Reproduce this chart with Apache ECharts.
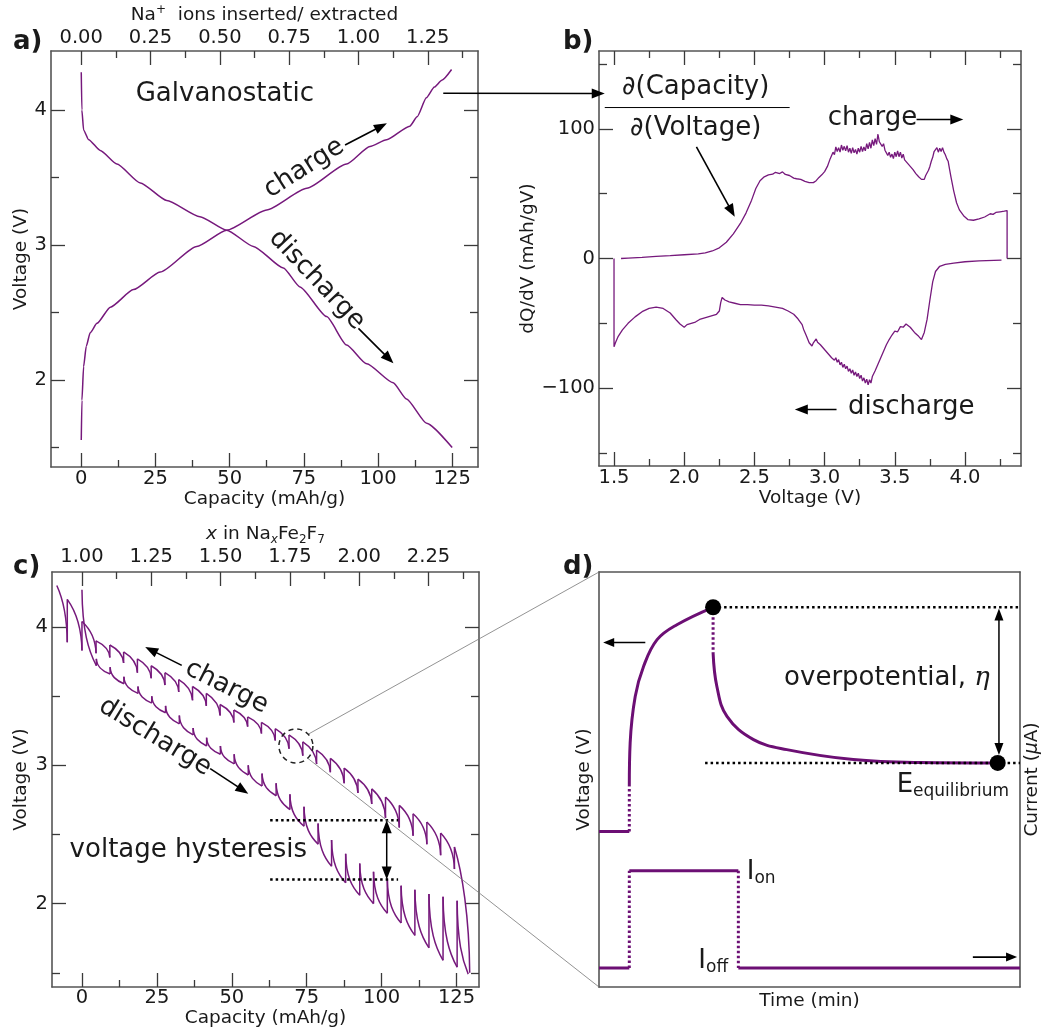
<!DOCTYPE html>
<html><head><meta charset="utf-8">
<script src="https://cdn.jsdelivr.net/npm/echarts@6/dist/echarts.min.js"></script>
<style>html,body{margin:0;padding:0;background:#fff}#c{width:1049px;height:1034px}</style>
</head><body><div id="c"></div>
<script>
// ---------------- Panel a: galvanostatic curves ----------------
const aChargeCap = [0, 0.22, 0.79, 1.68, 3.0, 5.3, 9.8, 17.6, 26.6, 38.9, 49, 62.5, 76, 89.4, 97.3, 102.9, 110.7, 113.2, 116.3, 119.0, 121.5, 124.8];
const aChargeV   = [1.556, 1.85, 2.1, 2.25, 2.35, 2.42, 2.54, 2.67, 2.80, 2.99, 3.11, 3.26, 3.42, 3.60, 3.73, 3.78, 3.88, 3.95, 4.09, 4.17, 4.22, 4.30];
const aDisCap = [0, 0.2, 0.8, 2.5, 6.4, 12, 19.9, 28.8, 40, 49, 58, 68.1, 73.7, 82.7, 89.4, 96.2, 105.1, 109.6, 116.4, 125];
const aDisV   = [4.28, 4.0, 3.85, 3.78, 3.70, 3.60, 3.46, 3.33, 3.21, 3.11, 2.99, 2.83, 2.69, 2.47, 2.26, 2.12, 1.98, 1.86, 1.68, 1.50];
const aCapMajor = [0, 25, 50, 75, 100, 125];
const aCapMinor = [12.5, 37.5, 62.5, 87.5, 112.5];
const aIonMajor = [0, 0.25, 0.5, 0.75, 1.0, 1.25];
const aIonMinor = [0.125, 0.375, 0.625, 0.875, 1.125, 1.375];
const aVMajor = [2, 3, 4];
const aVMinor = [1.5, 2.5, 3.5];

// ---------------- Panel b: dQ/dV ----------------
const bChargeV = [1.55,1.60,1.70,1.80,1.90,2.00,2.10,2.15,2.20,2.25,2.30,2.35,2.40,2.44,2.48,2.51,2.54,2.57,2.60,2.63,2.65,2.68,2.70,2.72,2.75,2.78,
  2.80,2.83,2.86,2.89,2.92,2.94,
  2.96,2.97,2.98,2.99,3.00,3.01,3.02,3.03,3.04,3.05,3.06,3.07,3.08,3.09,3.10,3.11,3.12,3.13,3.14,3.15,3.16,3.17,3.18,3.19,3.20,3.21,3.22,3.23,3.24,3.25,3.26,3.27,3.28,3.29,
  3.30,3.31,3.32,3.33,3.34,3.35,3.36,3.37,3.38,3.39,3.40,3.41,3.42,3.43,3.44,3.45,3.46,3.47,3.48,3.49,3.50,3.51,3.52,3.53,3.54,3.55,3.56,3.57,3.58,3.59,
  3.60,3.61,3.62,3.63,3.64,3.65,3.66,3.67,3.68,3.69,3.70,3.71,3.72,3.73,3.74,3.75,3.76,3.77,3.78,3.79,3.80,3.81,3.82,3.83,3.84,3.85,3.86,3.87,3.88,3.89,3.90,
  3.92,3.94,3.96,3.99,4.02,4.06,4.10,4.14,4.18,4.20,4.22,4.25,4.28,4.30,4.30];
const bChargeD = [0,0.3,0.9,1.6,2.2,2.9,3.6,4.3,5.8,8.2,12.5,19,27,35,45,54,60,63,64.5,65,66.5,65.5,66.8,64.8,64,62,
  61.5,61,59.5,58.5,58.5,60,
  62.5,61,64.5,63,67,66.5,71,72,77,76,82,80,86,82.5,85.5,82,87.5,83.5,86.5,83,87,82,85,81,85.5,81.5,84,80.5,85,82,86.5,82.5,86,83,
  88.5,84.5,89.5,85,91.5,87,92.5,88,96,90,91.5,86.5,88.5,83.5,84.5,79.5,82,78,80.5,77,82,78.5,83,78.5,82,77.5,80.5,76,77.5,73.5,
  75,71,72.5,68.5,69,65.5,66.5,63,64,61,62.5,61,64,64.5,68,71,75,78,82.5,81,85.5,82,85,82.5,85.5,82,80,77,75,69,63,
  52,43,37.5,33,30,29.5,30.5,32,34.5,34,35.5,36,36.5,37,0];
const bDisV = [1.50,1.50,1.51,1.53,1.56,1.60,1.65,1.70,1.75,1.80,1.85,1.90,1.94,1.97,2.00,2.02,2.05,2.08,2.11,2.14,2.17,2.20,2.23,2.25,2.26,2.27,2.29,2.32,2.36,2.40,2.45,2.50,2.55,2.60,2.65,2.70,2.74,2.78,2.81,
  2.84,2.85,2.86,2.87,2.88,2.89,2.90,2.91,2.92,2.93,2.94,2.95,2.96,2.97,2.98,2.99,3.00,3.01,3.02,3.03,3.04,3.05,3.06,3.07,3.08,3.09,3.10,3.11,3.12,3.13,3.14,3.15,3.16,3.17,3.18,3.19,
  3.20,3.21,3.22,3.23,3.24,3.25,3.26,3.27,3.28,3.29,3.30,3.31,3.32,3.33,3.34,3.35,3.36,3.37,3.38,3.39,3.40,3.41,3.42,3.43,3.44,3.45,3.46,3.47,3.48,3.49,3.50,
  3.52,3.54,3.56,3.58,3.61,3.64,3.67,3.69,3.71,3.73,3.75,3.77,3.79,3.82,3.86,3.92,4.00,4.10,4.26];
const bDisD = [0,-68,-65,-60,-55,-50,-45,-41,-38.5,-37.5,-38.5,-42,-47,-50.5,-53,-51,-50,-49,-47,-46,-45,-44,-43,-40.5,-34,-30,-32,-33.5,-34.5,-35.5,-35.5,-36,-36,-36.5,-37.5,-38.5,-40.5,-43,-46.5,
  -51,-54.5,-55,-59.5,-61,-65,-64,-67.5,-65,-64.5,-62,-64.5,-63,-66.5,-65,-69,-68,-71.5,-70,-74,-72.5,-76.5,-75,-78.5,-76.5,-80,-78,-82,-80,-84,-81.5,-85,-83,-87,-85,-88.5,
  -86,-90,-87.5,-91,-88.5,-92.5,-90,-94.5,-92,-96,-93,-97.5,-93.5,-96,-91,-92,-86.5,-87,-81.5,-82,-76.5,-76,-71.5,-71,-66.5,-66,-62.5,-63,-59,-59.5,-56,
  -56.5,-52.5,-53,-50.5,-53,-57,-60,-62.5,-57,-47,-32,-18,-10,-6,-4.5,-3.5,-2.5,-1.8,-1.2];
const bVMajor = [1.5, 2.0, 2.5, 3.0, 3.5, 4.0];
const bVMinor = [1.75, 2.25, 2.75, 3.25, 3.75, 4.25];
const bDMajor = [-100, 0, 100];
const bDMinor = [-150, -50, 50, 150];

// ---------------- Panel c: GITT ----------------
const cChargeCap = [-8.4, -4.9, 0, 4.7, 9.3, 13.9, 18.5, 23.1, 27.7, 32.3, 36.9, 41.5, 46.1, 50.7, 55.3, 59.9, 64.5, 69.1, 73.7, 78.3, 82.9, 87.5, 92.1, 96.7, 101.3, 105.9, 110.5, 115.1, 119.7, 124.3, 129.4];
const cChargeTop = [4.30, 4.20, 4.04, 3.90, 3.87, 3.82, 3.77, 3.72, 3.67, 3.62, 3.57, 3.52, 3.44, 3.40, 3.35, 3.31, 3.265, 3.22, 3.17, 3.11, 3.05, 2.98, 2.90, 2.83, 2.77, 2.71, 2.65, 2.59, 2.51, 2.41, null];
const cChargeBot = [null, 3.89, 3.83, 3.81, 3.78, 3.74, 3.67, 3.63, 3.58, 3.53, 3.47, 3.43, 3.36, 3.31, 3.28, 3.23, 3.18, 3.12, 3.07, 3.01, 2.95, 2.87, 2.80, 2.72, 2.62, 2.55, 2.49, 2.43, 2.35, 2.25, 1.50];
const cDisCap = [0, 4.8, 9.4, 14.0, 18.7, 23.3, 27.9, 32.5, 37.1, 41.6, 46.2, 50.8, 55.5, 60.1, 64.8, 69.4, 74.1, 78.8, 83.3, 88.0, 92.7, 97.3, 101.9, 106.5, 111.1, 115.8, 120.5, 125.2, 128.9];
const cDisTop = [4.27, 3.77, 3.71, 3.64, 3.57, 3.50, 3.43, 3.36, 3.27, 3.20, 3.14, 3.08, 3.00, 2.94, 2.87, 2.79, 2.70, 2.58, 2.46, 2.36, 2.29, 2.23, 2.18, 2.13, 2.10, 2.07, 2.05, 2.02, null];
const cDisBot = [null, 3.72, 3.66, 3.59, 3.52, 3.45, 3.38, 3.30, 3.22, 3.14, 3.08, 3.01, 2.93, 2.85, 2.78, 2.68, 2.56, 2.43, 2.27, 2.15, 2.06, 2.00, 1.93, 1.86, 1.77, 1.68, 1.59, 1.54, 1.49];
const cXMajor = [1.0, 1.25, 1.5, 1.75, 2.0, 2.25];
const cXMinor = [1.125, 1.375, 1.625, 1.875, 2.125, 2.375];
const cHystCap = [62.8, 105.5];
const cHystHigh = 2.602, cHystLow = 2.174;

// ---------------- Panel d: schematic ----------------
const dVBase = [[0, 37.5], [7.2, 37.5]];
const dVJump = [[7.2, 37.5], [7.2, 48.4]];
const dVRise = [[7.2, 48.4], [7.4, 58.8], [8.6, 70.0], [10.6, 77.3], [13.8, 83.7], [18.5, 87.3], [27.1, 91.5]];
const dVDrop = [[27.1, 91.5], [27.1, 80.5]];
const dVRelax = [[27.1, 80.5], [28.0, 72.4], [30.4, 65.2], [36.7, 59.6], [44.6, 57.2], [60.4, 54.8], [76.3, 54.1], [94.7, 54.0]];
const dDots = [[27.1, 91.5], [94.7, 54.0]];
const dTopRef = [[27.1, 91.5], [100, 91.5]];
const dEqRef = [[25.2, 54.0], [100, 54.0]];
const dIOffA = [[0, 4.6], [7.2, 4.6]];
const dIUp = [[7.2, 4.6], [7.2, 28.0]];
const dIOn = [[7.2, 28.0], [33.1, 28.0]];
const dIDown = [[33.1, 28.0], [33.1, 4.6]];
const dIOffB = [[33.1, 4.6], [100, 4.6]];

// ---------------- styling ----------------
const FONT = 'DejaVu Sans';
const PURPLE = '#76197c';
const DPURPLE = '#6c0f74';
const FRAME = '#555';
const TXT = '#1a1a1a';
const TICKFS = 19.5, NAMEFS = 18.5;

const grids = [
  {left: 51, top: 51, width: 427, height: 416},
  {left: 599, top: 51, width: 422, height: 415},
  {left: 52, top: 572, width: 427, height: 415},
  {left: 599, top: 572, width: 421, height: 415}
].map(g => Object.assign(g, {containLabel: false, outerBoundsMode: 'none'}));

function mkAxis(o) {
  const a = {
    type: 'value', gridIndex: o.grid, position: o.pos, min: o.min, max: o.max,
    axisLine: {show: !!o.line, onZero: false, lineStyle: {color: FRAME, width: 1.6}},
    axisTick: {show: !!o.ticks, inside: true, length: o.len || 14, customValues: o.ticks || [], lineStyle: {color: '#3a3a3a', width: 1.3}},
    axisLabel: o.labels ? {show: true, customValues: o.labels, formatter: o.fmt, margin: (o.margin == null ? 4 : o.margin), fontSize: TICKFS, color: TXT, fontFamily: FONT} : {show: false},
    splitLine: {show: false}, splitArea: {show: false}, axisPointer: {show: false}
  };
  if (o.name) {
    a.name = o.name; a.nameLocation = 'middle'; a.nameGap = o.nameGap;
    a.nameTextStyle = Object.assign({fontSize: NAMEFS, color: TXT, fontFamily: FONT}, o.nameStyle || {});
  }
  return a;
}
const fInt = v => String(v);
const f2 = v => v.toFixed(2);
const f1 = v => v.toFixed(1);
const fMinus = v => (v < 0 ? '\u2212' + Math.abs(v) : String(v));

const xAxis = [], yAxis = [];
// panel a
const aX = [-10.2, 133.7], aI = [-0.109, 1.431], aY = [1.356, 4.437];
xAxis.push(mkAxis({grid: 0, pos: 'bottom', min: aX[0], max: aX[1], ticks: aCapMajor, len: 14, labels: aCapMajor, fmt: fInt, line: true, margin: 2, name: 'Capacity (mAh/g)', nameGap: 21}));
xAxis.push(mkAxis({grid: 0, pos: 'bottom', min: aX[0], max: aX[1], ticks: aCapMinor, len: 7}));
xAxis.push(mkAxis({grid: 0, pos: 'top', min: aI[0], max: aI[1], ticks: aIonMajor, len: 14, labels: aIonMajor, fmt: f2, line: true, margin: 3,
  name: '{n|Na}{p|+}{n|  ions inserted/ extracted}', nameGap: 25,
  nameStyle: {rich: {n: {fontSize: NAMEFS, fontFamily: FONT, color: TXT, lineHeight: 22}, p: {fontSize: 12, fontFamily: FONT, color: TXT, verticalAlign: 'top', lineHeight: 12}}}}));
xAxis.push(mkAxis({grid: 0, pos: 'top', min: aI[0], max: aI[1], ticks: aIonMinor, len: 7}));
yAxis.push(mkAxis({grid: 0, pos: 'left', min: aY[0], max: aY[1], ticks: aVMajor, len: 14, labels: aVMajor, fmt: fInt, line: true, name: 'Voltage (V)', nameGap: 20}));
yAxis.push(mkAxis({grid: 0, pos: 'left', min: aY[0], max: aY[1], ticks: aVMinor, len: 8}));
yAxis.push(mkAxis({grid: 0, pos: 'right', min: aY[0], max: aY[1], ticks: aVMajor, len: 14, line: true}));
yAxis.push(mkAxis({grid: 0, pos: 'right', min: aY[0], max: aY[1], ticks: aVMinor, len: 8}));
// panel b
const bX = [1.393, 4.399], bY = [-160, 160];
xAxis.push(mkAxis({grid: 1, pos: 'bottom', min: bX[0], max: bX[1], ticks: bVMajor, len: 14, labels: bVMajor, fmt: f1, line: true, margin: 2, name: 'Voltage (V)', nameGap: 21}));
xAxis.push(mkAxis({grid: 1, pos: 'bottom', min: bX[0], max: bX[1], ticks: bVMinor, len: 7}));
xAxis.push(mkAxis({grid: 1, pos: 'top', min: bX[0], max: bX[1], ticks: bVMajor, len: 14, line: true}));
xAxis.push(mkAxis({grid: 1, pos: 'top', min: bX[0], max: bX[1], ticks: bVMinor, len: 7}));
yAxis.push(mkAxis({grid: 1, pos: 'left', min: bY[0], max: bY[1], ticks: bDMajor, len: 14, labels: bDMajor, fmt: fMinus, line: true, name: 'dQ/dV (mAh/gV)', nameGap: 57}));
yAxis.push(mkAxis({grid: 1, pos: 'left', min: bY[0], max: bY[1], ticks: bDMinor, len: 8}));
yAxis.push(mkAxis({grid: 1, pos: 'right', min: bY[0], max: bY[1], ticks: bDMajor, len: 14, line: true}));
yAxis.push(mkAxis({grid: 1, pos: 'right', min: bY[0], max: bY[1], ticks: bDMinor, len: 8}));
// panel c
const cX = [-10.0, 132.5], cT = [0.892, 2.432], cY = [1.397, 4.398];
xAxis.push(mkAxis({grid: 2, pos: 'bottom', min: cX[0], max: cX[1], ticks: aCapMajor, len: 14, labels: aCapMajor, fmt: fInt, line: true, margin: 1, name: 'Capacity (mAh/g)', nameGap: 21}));
xAxis.push(mkAxis({grid: 2, pos: 'bottom', min: cX[0], max: cX[1], ticks: aCapMinor, len: 7}));
xAxis.push(mkAxis({grid: 2, pos: 'top', min: cT[0], max: cT[1], ticks: cXMajor, len: 14, labels: cXMajor, fmt: f2, line: true, margin: 5,
  name: '{i|x}{n| in Na}{si|x}{n|Fe}{s|2}{n|F}{s|7}', nameGap: 25,
  nameStyle: {rich: {
    n: {fontSize: NAMEFS, fontFamily: FONT, color: TXT, lineHeight: 24},
    i: {fontSize: NAMEFS, fontFamily: FONT, color: TXT, fontStyle: 'italic', lineHeight: 24},
    s: {fontSize: 12, fontFamily: FONT, color: TXT, verticalAlign: 'bottom', lineHeight: 12},
    si: {fontSize: 12, fontFamily: FONT, color: TXT, fontStyle: 'italic', verticalAlign: 'bottom', lineHeight: 12}}}}));
xAxis.push(mkAxis({grid: 2, pos: 'top', min: cT[0], max: cT[1], ticks: cXMinor, len: 7}));
yAxis.push(mkAxis({grid: 2, pos: 'left', min: cY[0], max: cY[1], ticks: aVMajor, len: 14, labels: aVMajor, fmt: fInt, line: true, name: 'Voltage (V)', nameGap: 21}));
yAxis.push(mkAxis({grid: 2, pos: 'left', min: cY[0], max: cY[1], ticks: aVMinor, len: 8}));
yAxis.push(mkAxis({grid: 2, pos: 'right', min: cY[0], max: cY[1], ticks: aVMajor, len: 14, line: true}));
yAxis.push(mkAxis({grid: 2, pos: 'right', min: cY[0], max: cY[1], ticks: aVMinor, len: 8}));
// panel d
xAxis.push(mkAxis({grid: 3, pos: 'bottom', min: 0, max: 100, line: true, name: 'Time (min)', nameGap: 5}));
xAxis.push(mkAxis({grid: 3, pos: 'top', min: 0, max: 100, line: true}));
yAxis.push(mkAxis({grid: 3, pos: 'left', min: 0, max: 100, line: true, name: 'Voltage (V)', nameGap: 5}));
yAxis.push(mkAxis({grid: 3, pos: 'right', min: 0, max: 100, line: true, name: '{n|Current (}{i|\u03bc}{n|A)}', nameGap: 3,
  nameStyle: {rich: {n: {fontSize: NAMEFS, fontFamily: FONT, color: TXT}, i: {fontSize: NAMEFS, fontFamily: FONT, color: TXT, fontStyle: 'italic'}}}}));

const PX = [0, 4, 8, 12], PY = [0, 4, 8, 12];
const zip = (xs, ys) => xs.map((x, i) => [x, ys[i]]);

function lineSeries(g, data, o = {}) {
  return {
    type: 'line', xAxisIndex: PX[g], yAxisIndex: PY[g], data, showSymbol: false, symbol: 'none',
    smooth: o.smooth || false, smoothMonotone: o.mono, clip: false, silent: true, z: o.z || 3,
    lineStyle: {color: o.color || PURPLE, width: o.width || 1.5, type: o.type || 'solid', cap: 'butt', opacity: 1}
  };
}

// GITT pulses drawn as curved segments between the read points
function gittSeries(caps, tops, bots, kind) {
  const data = [];
  for (let i = 0; i < caps.length - 1; i++) data.push([caps[i], tops[i], caps[i + 1], bots[i + 1]]);
  return {
    type: 'custom', xAxisIndex: PX[2], yAxisIndex: PY[2], data, silent: true, clip: false, z: 3,
    encode: {x: [0, 2], y: [1, 3]},
    renderItem: function (params, api) {
      const i = params.dataIndex;
      const s = api.coord([api.value(0), api.value(1)]);
      const e = api.coord([api.value(2), api.value(3)]);
      const dx = e[0] - s[0], dy = e[1] - s[1];
      let c1, c2;
      if (kind === 'charge') { c1 = [s[0] + 0.5 * dx, s[1] + 0.2 * dy]; c2 = [e[0] - 0.03 * dx, s[1] + 0.55 * dy]; }
      else { c1 = [s[0] + 0.03 * dx, s[1] + 0.55 * dy]; c2 = [s[0] + 0.45 * dx, e[1] - 0.2 * dy]; }
      const children = [{type: 'bezierCurve', shape: {x1: s[0], y1: s[1], x2: e[0], y2: e[1], cpx1: c1[0], cpy1: c1[1], cpx2: c2[0], cpy2: c2[1]},
        style: {stroke: PURPLE, lineWidth: 1.5, fill: null}}];
      if (bots[i] != null && tops[i] != null) {
        const b = api.coord([caps[i], bots[i]]);
        children.push({type: 'line', shape: {x1: b[0], y1: b[1], x2: s[0], y2: s[1]}, style: {stroke: PURPLE, lineWidth: 1.5}});
      }
      return {type: 'group', children};
    }
  };
}

const series = [
  lineSeries(0, zip(aChargeCap, aChargeV), {smooth: 0.2, mono: 'x'}),
  lineSeries(0, zip(aDisCap, aDisV), {smooth: 0.2, mono: 'x'}),
  lineSeries(1, zip(bChargeV, bChargeD), {width: 1.3}),
  lineSeries(1, zip(bDisV, bDisD), {width: 1.3}),
  gittSeries(cChargeCap, cChargeTop, cChargeBot, 'charge'),
  gittSeries(cDisCap, cDisTop, cDisBot, 'discharge'),
  lineSeries(2, [[cHystCap[0], cHystHigh], [cHystCap[1], cHystHigh]], {color: '#000', width: 2.5, type: [2.5, 3]}),
  lineSeries(2, [[cHystCap[0], cHystLow], [cHystCap[1], cHystLow]], {color: '#000', width: 2.5, type: [2.5, 3]}),
  // panel d
  lineSeries(3, dVBase, {color: DPURPLE, width: 3}),
  lineSeries(3, dVJump, {color: DPURPLE, width: 3, type: [2.5, 2.5]}),
  lineSeries(3, dVRise, {color: DPURPLE, width: 3, smooth: 0.4}),
  lineSeries(3, dVDrop, {color: DPURPLE, width: 3, type: [2.5, 2.5]}),
  lineSeries(3, dVRelax, {color: DPURPLE, width: 3, smooth: 0.4}),
  lineSeries(3, dTopRef, {color: '#000', width: 2.5, type: [2.5, 3]}),
  lineSeries(3, dEqRef, {color: '#000', width: 2.5, type: [2.5, 3]}),
  lineSeries(3, dIOffA, {color: DPURPLE, width: 3}),
  lineSeries(3, dIUp, {color: DPURPLE, width: 3, type: [2.5, 2.5]}),
  lineSeries(3, dIOn, {color: DPURPLE, width: 3}),
  lineSeries(3, dIDown, {color: DPURPLE, width: 3, type: [2.5, 2.5]}),
  lineSeries(3, dIOffB, {color: DPURPLE, width: 3}),
  {type: 'scatter', xAxisIndex: PX[3], yAxisIndex: PY[3], data: dDots, symbol: 'circle', symbolSize: 16, itemStyle: {color: '#000', opacity: 1, borderWidth: 0}, silent: true, z: 6}
];

const chart = echarts.init(document.getElementById('c'), null, {renderer: 'canvas'});
chart.setOption({
  backgroundColor: '#fff', animation: false,
  grid: grids, xAxis, yAxis, series
});

// ---------------- annotations ----------------
const P = (g, x, y) => chart.convertToPixel({xAxisIndex: PX[g], yAxisIndex: PY[g]}, [x, y]);
function arrow(p1, p2, o = {}) {
  const L = o.L || 13, W = o.W || 10, lw = o.lw || 1.6, col = o.color || '#000';
  const dx = p2[0] - p1[0], dy = p2[1] - p1[1], d = Math.hypot(dx, dy), ux = dx / d, uy = dy / d, nx = -uy, ny = ux;
  const head = (tip, vx, vy) => {
    const bx = tip[0] - vx * L, by = tip[1] - vy * L;
    return {type: 'polygon', z: 100, shape: {points: [[tip[0], tip[1]], [bx + nx * W / 2, by + ny * W / 2], [bx - nx * W / 2, by - ny * W / 2]]}, style: {fill: col}};
  };
  const els = [head(p2, ux, uy)];
  let s = p1;
  if (o.both) { els.push(head(p1, -ux, -uy)); s = [p1[0] + ux * L * 0.7, p1[1] + uy * L * 0.7]; }
  const e = [p2[0] - ux * L * 0.7, p2[1] - uy * L * 0.7];
  els.push({type: 'line', z: 100, shape: {x1: s[0], y1: s[1], x2: e[0], y2: e[1]}, style: {stroke: col, lineWidth: lw}});
  return els;
}
function txt(p, text, o = {}) {
  return {type: 'text', x: p[0], y: p[1], rotation: (o.rot || 0) * Math.PI / 180, z: 100,
    style: {text, fill: TXT, fontSize: o.size || 26, fontFamily: FONT, fontWeight: o.weight || 'normal',
      align: o.align || 'center', verticalAlign: 'middle', rich: o.rich}};
}
const G = [];
// panel labels
G.push(txt([13, 42], 'a)', {size: 26, weight: 'bold', align: 'left'}));
G.push(txt([563, 42], 'b)', {size: 26, weight: 'bold', align: 'left'}));
G.push(txt([13, 567], 'c)', {size: 26, weight: 'bold', align: 'left'}));
G.push(txt([563, 567], 'd)', {size: 26, weight: 'bold', align: 'left'}));
// panel a
G.push(txt(P(0, 48.4, 4.118), 'Galvanostatic'));
G.push(txt(P(0, 75.1, 3.568), 'charge', {rot: 32.6}));
G.push(...arrow(P(0, 88.9, 3.741), P(0, 103.0, 3.901)));
G.push(txt(P(0, 79.4, 2.741), 'discharge', {rot: -46.5}));
G.push(...arrow(P(0, 93.4, 2.383), P(0, 105.2, 2.124)));
G.push(...arrow(P(0, 122.0, 4.124), P(1, 1.434, 127.2)));
// panel b
const richD = {d: {fontSize: 26, fontFamily: FONT, fontStyle: 'italic', fill: TXT}, n: {fontSize: 26, fontFamily: FONT, fill: TXT}};
G.push(txt(P(1, 2.082, 131.8), '{d|\u2202}{n|(Capacity)}', {rich: richD}));
const fl1 = P(1, 1.434, 116.4), fl2 = P(1, 2.751, 116.4);
G.push({type: 'line', z: 100, shape: {x1: fl1[0], y1: fl1[1], x2: fl2[0], y2: fl2[1]}, style: {stroke: '#000', lineWidth: 1}});
G.push(txt(P(1, 2.082, 100.2), '{d|\u2202}{n|(Voltage)}', {rich: richD}));
G.push(...arrow(P(1, 2.087, 86.0), P(1, 2.360, 32.1)));
G.push(txt(P(1, 3.022, 107.9), 'charge', {align: 'left'}));
G.push(...arrow(P(1, 3.655, 107.2), P(1, 3.988, 107.2)));
G.push(txt(P(1, 3.166, -114.4), 'discharge', {align: 'left'}));
G.push(...arrow(P(1, 3.085, -116.4), P(1, 2.788, -116.4)));
// panel c
G.push(txt(P(2, 48.3, 3.566), 'charge', {rot: -26.6}));
G.push(...arrow(P(2, 33.3, 3.723), P(2, 21.1, 3.855)));
G.push(txt(P(2, 24.4, 3.205), 'discharge', {rot: -31.4}));
G.push(...arrow(P(2, 42.8, 2.976), P(2, 55.5, 2.795)));
G.push(txt(P(2, 35.5, 2.385), 'voltage hysteresis'));
G.push(...arrow(P(2, 101.7, cHystHigh), P(2, 101.7, cHystLow), {both: true, lw: 1.5}));
const cc = P(2, 71.4, 3.14), R = 17;
G.push({type: 'circle', z: 100, shape: {cx: cc[0], cy: cc[1], r: R}, style: {fill: null, stroke: '#222', lineWidth: 1.5, lineDash: [5, 4]}});
const dTL = P(3, 0, 100), dBL = P(3, 0, 0);
G.push({type: 'line', z: 99, shape: {x1: cc[0] + R * 0.72, y1: cc[1] - R * 0.69, x2: dTL[0], y2: dTL[1]}, style: {stroke: '#777', lineWidth: 0.8}});
G.push({type: 'line', z: 99, shape: {x1: cc[0] + R * 0.69, y1: cc[1] + R * 0.72, x2: dBL[0], y2: dBL[1]}, style: {stroke: '#777', lineWidth: 0.8}});
// panel d
G.push(txt(P(3, 68.4, 74.5), '{n|overpotential, }{e|\u03b7}', {rich: {n: {fontSize: 26, fontFamily: FONT, fill: TXT}, e: {fontSize: 26, fontFamily: 'DejaVu Serif', fontStyle: 'italic', fill: TXT}}}));
G.push(...arrow(P(3, 95.0, 91.2), P(3, 95.0, 55.9), {both: true, lw: 1.5, L: 12, W: 9}));
const subRich = {b: {fontSize: 26, fontFamily: FONT, fill: TXT, lineHeight: 30}, s: {fontSize: 17, fontFamily: FONT, fill: TXT, verticalAlign: 'bottom', lineHeight: 17}};
G.push(txt(P(3, 70.7, 48.7), '{b|E}{s|equilibrium}', {align: 'left', rich: subRich}));
G.push(txt(P(3, 35.1, 27.6), '{b|I}{s|on}', {align: 'left', rich: subRich}));
G.push(txt(P(3, 23.6, 6.2), '{b|I}{s|off}', {align: 'left', rich: subRich}));
G.push(...arrow(P(3, 11.0, 83.0), P(3, 1.0, 83.0), {L: 11, W: 9}));
G.push(...arrow(P(3, 88.8, 7.2), P(3, 99.3, 7.2), {L: 11, W: 9}));

chart.setOption({graphic: {elements: G}});
</script></body></html>
